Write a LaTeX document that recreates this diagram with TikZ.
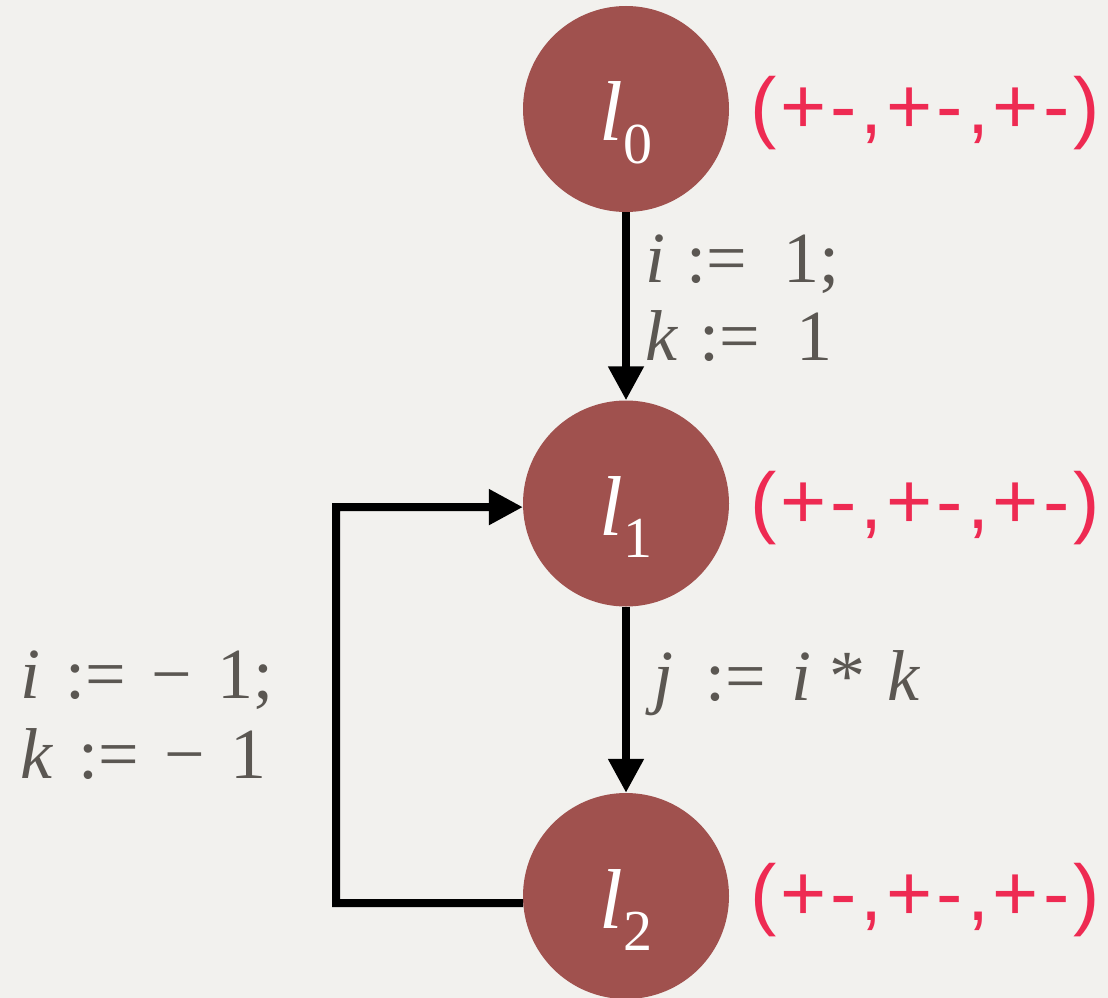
\documentclass[tikz,border=0pt]{standalone}
\usepackage{fontspec}
\setmainfont{Liberation Serif}
\newfontfamily\redfont[LetterSpace=5]{Liberation Sans}
\usetikzlibrary{arrows.meta}
\definecolor{bg}{HTML}{F2F1EE}
\definecolor{nodefill}{HTML}{A0514E}
\definecolor{lbl}{HTML}{5B5752}
\definecolor{redlbl}{HTML}{EE2A52}
\newcommand\locname[1]{\raisebox{-32pt}[0pt][0pt]{\fontsize{85}{85}\selectfont\itshape l\raisebox{-22pt}{\fontsize{58}{58}\selectfont\upshape #1}}}
\begin{document}
\begin{tikzpicture}[x=1pt,y=-1pt,
  loc/.style={circle,fill=nodefill,minimum size=206pt,inner sep=0pt,text=white},
  flow/.style={line width=8pt,-{Triangle[length=34pt,width=34pt]}},
  stmt/.style={text=lbl,align=left,anchor=base west,inner sep=0pt},
  absval/.style={text=redlbl,font=\redfont\fontsize{79}{79}\selectfont,anchor=base west,inner sep=0pt}]
\fill[bg] (0,0) rectangle (1108,998);
\useasboundingbox (0,0) rectangle (1108,998);
\node[loc] (l0) at (626,109) {\locname{0}};
\node[loc] (l1) at (626,503.5) {\locname{1}};
\node[loc] (l2) at (626,896) {\locname{2}};
\node[absval] (a0) at (750,133) {(+-,+-,+-)};
\node[absval] (a1) at (750,528) {(+-,+-,+-)};
\node[absval] (a2) at (750,920) {(+-,+-,+-)};
\draw[flow] (l0) -- (l1);
\draw[flow] (l1) -- (l2);
\coordinate (bend) at (336,903);
\draw[flow] (l2.184) -- (bend) |- (l1.182);
\node[stmt,font=\fontsize{72}{78}\selectfont] (s01) at (645,360)
  {\textit{i}\hspace{0.3em}:=\hspace{0.5em}1;\\\textit{k}\hspace{0.3em}:=\hspace{0.5em}1};
\node[stmt,font=\fontsize{72}{80}\selectfont] (s21) at (20,778)
  {\textit{i}\hspace{0.35em}:=\hspace{0.35em}−\hspace{0.35em}1;\\\textit{k}\hspace{0.35em}:=\hspace{0.35em}−\hspace{0.35em}1};
\node[stmt,font=\fontsize{72}{78}\selectfont] (s12) at (653,700)
  {\textit{j}\hspace{0.45em}:=\hspace{0.35em}\textit{i}\hspace{0.25em}*\hspace{0.3em}\textit{k}};
\end{tikzpicture}
\end{document}
